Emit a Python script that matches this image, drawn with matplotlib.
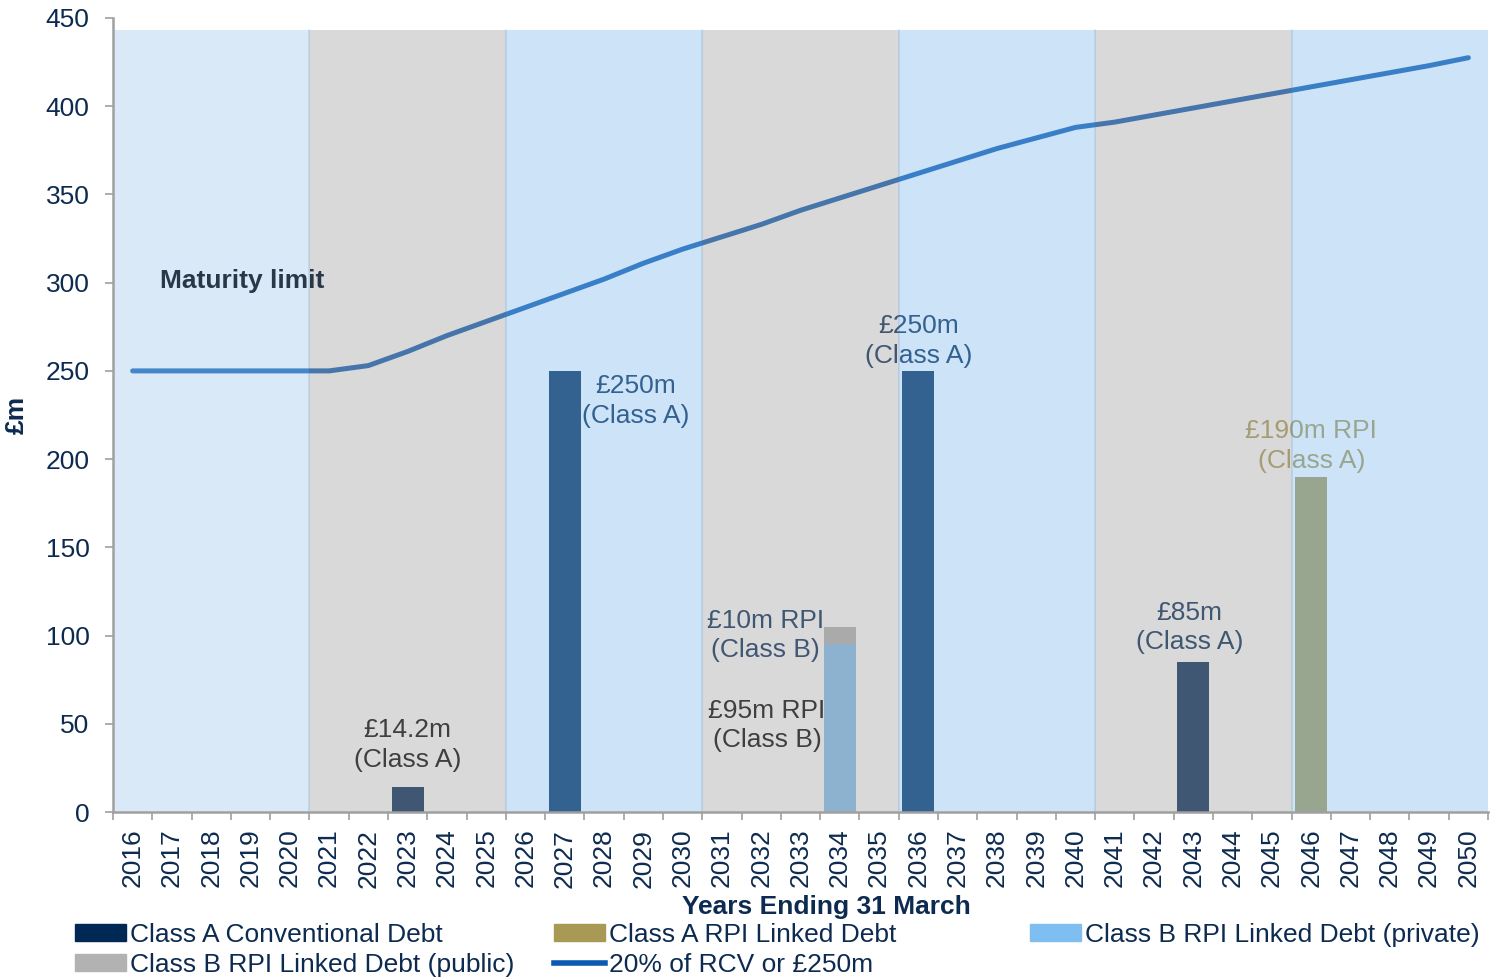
import matplotlib
matplotlib.use('Agg')
import matplotlib.pyplot as plt
from matplotlib.patches import Patch
from matplotlib.lines import Line2D

plt.rcParams['font.family'] = ['Liberation Sans', 'DejaVu Sans']

years = list(range(2016, 2051))
rcv_limit = [250, 250, 250, 250, 250, 250, 253, 261, 270, 278,
             286, 294, 302, 311, 319, 326, 333, 341, 348, 355,
             362, 369, 376, 382, 388, 391, 395, 399, 403, 407,
             411, 415, 419, 423, 427.5]

a_conv_years = [2023, 2027, 2036, 2043]
a_conv = [14.2, 250, 250, 85]
a_rpi_years = [2046]
a_rpi = [190]
b_priv_years = [2034]
b_priv = [95]
b_pub_years = [2034]
b_pub = [10]

# 5-year shaded periods
band_starts = [2016, 2021, 2026, 2031, 2036, 2041, 2046]
band_colors = ['#a0c8ee', '#a0a0a0', '#82b9eb', '#a0a0a0', '#82b9eb', '#a0a0a0', '#82b9eb']
band_top = 443

labels = [
    ('£14.2m\n(Class A)', 2023, 38, 'black'),
    ('£250m\n(Class A)', 2028.8, 233, '#002855'),
    ('£250m\n(Class A)', 2036, 267, '#002855'),
    ('£10m RPI\n(Class B)', 2032.1, 100, '#002855'),
    ('£95m RPI\n(Class B)', 2032.15, 49, 'black'),
    ('£85m\n(Class A)', 2042.9, 104.5, '#002855'),
    ('£190m RPI\n(Class A)', 2046, 207.5, '#a89a55'),
]

navy = '#0d2b50'
c_aconv = '#002855'
c_arpi = '#a89a55'
c_bpriv = '#7fbef0'
c_bpub = '#b2b2b2'
c_line = '#0a5ab1'

fig = plt.figure(figsize=(14.91, 9.77), dpi=100)
ax = fig.add_axes([113 / 1491, 165 / 977, 1375 / 1491, 794 / 977])

idx = lambda ys: [y - years[0] for y in ys]

ax.bar(idx(a_conv_years), a_conv, width=0.82, color=c_aconv, zorder=2)
ax.bar(idx(a_rpi_years), a_rpi, width=0.82, color=c_arpi, zorder=2)
ax.bar(idx(b_priv_years), b_priv, width=0.82, color=c_bpriv, zorder=2)
ax.bar(idx(b_pub_years), b_pub, bottom=b_priv, width=0.82, color=c_bpub, zorder=2)
ax.plot(idx(years), rcv_limit, color=c_line, lw=3.6, solid_capstyle='round', zorder=3)

for txt, x, y, col in labels:
    ax.text(x - years[0], y, txt, ha='center', va='center', fontsize=19,
            color=col, linespacing=1.3, zorder=3)
ax.text(2.8, 301, 'Maturity limit', ha='center', va='center', fontsize=19,
        fontweight='bold', color='#28384a', zorder=6)

# translucent period bands laid over everything
ends = band_starts[1:] + [years[-1] + 1]
for s, e, c in zip(band_starts, ends, band_colors):
    ax.axvspan(s - years[0] - 0.5, e - years[0] - 0.5, ymin=0, ymax=band_top / 450,
               facecolor=c, alpha=0.4, lw=0, zorder=4)
for s in band_starts[1:]:
    ax.axvline(s - years[0] - 0.5, ymin=0, ymax=band_top / 450, color='#3a80c6',
               alpha=0.18, lw=1.2, zorder=4)

ax.set_xlim(-0.5, len(years) - 0.5)
ax.set_ylim(0, 450)
ax.set_yticks(range(0, 451, 50))
ax.set_xticks([i - 0.5 for i in range(len(years) + 1)])
ax.set_xticklabels([])
ax.set_xticks(range(len(years)), minor=True)
ax.set_xticklabels([str(y) for y in years], minor=True, rotation=90, fontsize=19, color=navy)
ax.tick_params(axis='x', which='major', length=6, width=1.2, color='#a0a0a0')
ax.tick_params(axis='x', which='minor', length=0, pad=12)
ax.tick_params(axis='y', length=6, width=1.2, color='#a0a0a0', labelsize=19,
               labelcolor=navy, pad=11)
for sp in ['top', 'right']:
    ax.spines[sp].set_visible(False)
for sp in ['left', 'bottom']:
    ax.spines[sp].set_color('#a0a0a0')
    ax.spines[sp].set_linewidth(1.8)
    ax.spines[sp].set_zorder(5)

ax.set_ylabel('£m', fontsize=19, fontweight='bold', color=navy, labelpad=12)
fig.text(826 / 1491, 1 - 907 / 977, 'Years Ending 31 March', ha='center', va='center',
         fontsize=19, fontweight='bold', color=navy)

leg_kw = dict(frameon=False, fontsize=19, handlelength=1.95, handleheight=0.6,
              handletextpad=0.15, labelspacing=0.23, borderpad=0, borderaxespad=0,
              labelcolor=navy, loc='upper left')
fig.legend([Patch(color=c_aconv), Patch(color=c_bpub)],
           ['Class A Conventional Debt', 'Class B RPI Linked Debt (public)'],
           bbox_to_anchor=(75 / 1491, 1 - 923 / 977), **leg_kw)
fig.legend([Patch(color=c_arpi), Line2D([], [], color=c_line, lw=4)],
           ['Class A RPI Linked Debt', '20% of RCV or £250m'],
           bbox_to_anchor=(554 / 1491, 1 - 923 / 977), **leg_kw)
fig.legend([Patch(color=c_bpriv)], ['Class B RPI Linked Debt (private)'],
           bbox_to_anchor=(1030 / 1491, 1 - 923 / 977), **leg_kw)

fig.savefig('out.png', dpi=100)
